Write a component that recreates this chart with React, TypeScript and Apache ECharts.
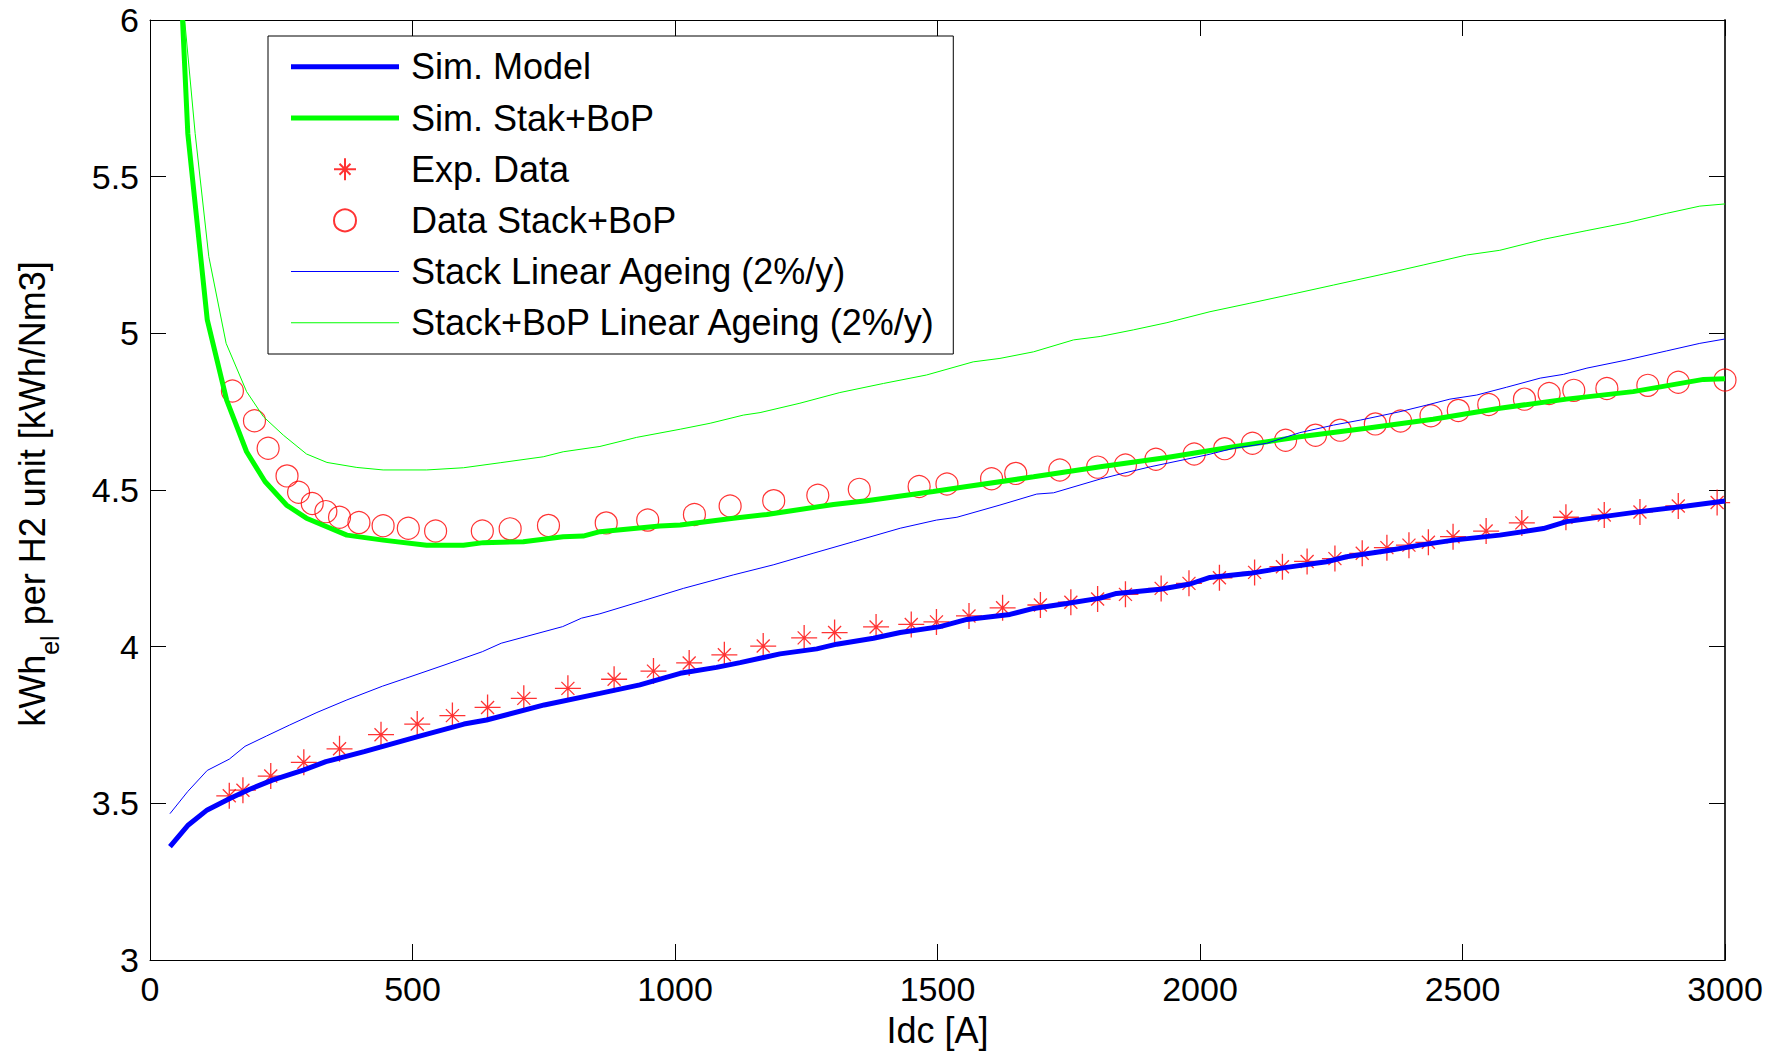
import React, { useEffect, useRef } from "react";
import * as echarts from "echarts";

const FONT = "'Liberation Sans', Arial, sans-serif";

// Idc [A] vs specific energy [kWh/Nm3]
const simModel: [number, number][] = [
  [38, 3.362], [73, 3.431], [109, 3.479], [153, 3.516], [190, 3.545], [233, 3.574],
  [292, 3.606], [335, 3.633], [408, 3.665], [510, 3.713], [598, 3.753], [641, 3.766],
  [751, 3.814], [857, 3.851], [933, 3.878], [1010, 3.915], [1079, 3.934], [1124, 3.949],
  [1200, 3.977], [1270, 3.993], [1308, 4.008], [1378, 4.027], [1429, 4.045], [1505, 4.064],
  [1556, 4.087], [1638, 4.103], [1683, 4.122], [1746, 4.138], [1810, 4.155], [1841, 4.17],
  [1924, 4.183], [1981, 4.2], [2019, 4.221], [2095, 4.234], [2165, 4.253], [2241, 4.271],
  [2279, 4.287], [2356, 4.306], [2419, 4.324], [2483, 4.34], [2571, 4.356], [2654, 4.377],
  [2698, 4.399], [2838, 4.431], [2927, 4.449], [3000, 4.465],
];

const simStackBop: [number, number][] = [
  [62, 6.0], [72, 5.638], [109, 5.044], [146, 4.787], [184, 4.622], [219, 4.527],
  [260, 4.452], [298, 4.41], [375, 4.356], [444, 4.34], [527, 4.324], [597, 4.324],
  [635, 4.332], [711, 4.335], [787, 4.351], [825, 4.353], [857, 4.367], [971, 4.385],
  [1010, 4.388], [1111, 4.41], [1175, 4.422], [1302, 4.454], [1365, 4.466], [1492, 4.495],
  [1556, 4.511], [1683, 4.542], [1810, 4.574], [1937, 4.604], [2064, 4.638], [2190, 4.67],
  [2317, 4.697], [2444, 4.726], [2571, 4.761], [2698, 4.79], [2825, 4.814], [2959, 4.853],
  [3000, 4.855],
];

const expData: [number, number][] = [
  [151, 3.524], [177, 3.542], [230, 3.587], [293, 3.631], [361, 3.674], [440, 3.719],
  [509, 3.753], [576, 3.78], [643, 3.806], [712, 3.835], [796, 3.867], [884, 3.896],
  [959, 3.922], [1027, 3.948], [1094, 3.974], [1168, 4.002], [1246, 4.028], [1304, 4.045],
  [1383, 4.063], [1450, 4.071], [1498, 4.079], [1560, 4.098], [1624, 4.124], [1696, 4.133],
  [1754, 4.142], [1805, 4.152], [1858, 4.167], [1926, 4.186], [1979, 4.202], [2037, 4.22],
  [2104, 4.237], [2157, 4.255], [2204, 4.272], [2257, 4.281], [2309, 4.298], [2356, 4.316],
  [2398, 4.324], [2435, 4.333], [2482, 4.351], [2545, 4.369], [2613, 4.395], [2697, 4.413],
  [2770, 4.42], [2838, 4.43], [2911, 4.449], [2985, 4.46],
];

const dataStackBop: [number, number][] = [
  [157, 4.816], [199, 4.721], [225, 4.633], [261, 4.545], [283, 4.493], [309, 4.457],
  [335, 4.431], [361, 4.413], [398, 4.396], [444, 4.386], [492, 4.378], [544, 4.369],
  [633, 4.369], [686, 4.376], [759, 4.387], [869, 4.395], [948, 4.404], [1037, 4.422],
  [1105, 4.449], [1188, 4.466], [1272, 4.483], [1351, 4.502], [1465, 4.511], [1518, 4.519],
  [1603, 4.536], [1649, 4.553], [1733, 4.564], [1805, 4.573], [1858, 4.58], [1916, 4.598],
  [1989, 4.615], [2047, 4.632], [2100, 4.649], [2163, 4.659], [2220, 4.675], [2267, 4.691],
  [2334, 4.711], [2382, 4.72], [2440, 4.737], [2492, 4.754], [2550, 4.773], [2618, 4.79],
  [2665, 4.808], [2712, 4.818], [2775, 4.824], [2853, 4.834], [2911, 4.844], [3000, 4.851],
];

const stackAgeing: [number, number][] = [
  [38, 3.467], [72, 3.538], [109, 3.605], [151, 3.641], [181, 3.682], [222, 3.715],
  [266, 3.75], [318, 3.79], [375, 3.83], [443, 3.874], [487, 3.899], [560, 3.941],
  [633, 3.984], [669, 4.011], [786, 4.064], [822, 4.091], [857, 4.105], [940, 4.147],
  [1016, 4.186], [1111, 4.229], [1187, 4.261], [1263, 4.298], [1340, 4.335], [1429, 4.378],
  [1498, 4.404], [1537, 4.413], [1619, 4.452], [1689, 4.487], [1721, 4.491], [1810, 4.535],
  [1848, 4.551], [1905, 4.574], [1962, 4.594], [2013, 4.612], [2064, 4.633], [2127, 4.649],
  [2190, 4.683], [2254, 4.707], [2305, 4.723], [2381, 4.75], [2432, 4.771], [2476, 4.79],
  [2527, 4.803], [2584, 4.828], [2648, 4.857], [2692, 4.869], [2737, 4.889], [2813, 4.915],
  [2889, 4.944], [2952, 4.968], [3000, 4.982],
];

const stackBopAgeing: [number, number][] = [
  [66, 6.0], [86, 5.638], [112, 5.245], [145, 4.968], [184, 4.814], [216, 4.734],
  [254, 4.675], [298, 4.615], [337, 4.588], [394, 4.572], [444, 4.564], [527, 4.564],
  [597, 4.571], [667, 4.587], [749, 4.606], [787, 4.622], [857, 4.639], [927, 4.668],
  [1010, 4.694], [1067, 4.713], [1130, 4.739], [1162, 4.747], [1238, 4.777], [1314, 4.811],
  [1397, 4.84], [1479, 4.867], [1568, 4.909], [1619, 4.92], [1683, 4.941], [1759, 4.979],
  [1810, 4.99], [1873, 5.011], [1937, 5.034], [2019, 5.069], [2095, 5.096], [2178, 5.126],
  [2254, 5.154], [2349, 5.189], [2425, 5.218], [2508, 5.25], [2571, 5.265], [2654, 5.3],
  [2737, 5.328], [2813, 5.353], [2889, 5.383], [2952, 5.406], [3000, 5.413],
];

const seriesNames = [
  "Sim. Model",
  "Sim. Stak+BoP",
  "Exp. Data",
  "Data Stack+BoP",
  "Stack Linear Ageing (2%/y)",
  "Stack+BoP Linear Ageing (2%/y)",
];

const ASTERISK = "path://M0,-10L0,10M-10,0L10,0M-5,-5L5,5M-5,5L5,-5";
// legend keys for the line series: plain bars as wide as the key slot
const THICK_KEY = "path://M0,0H108V5H0Z";
const THIN_KEY = "path://M0,0H108V1H0Z";

function buildOption(): echarts.EChartsCoreOption {
  const tick = { show: true, inside: true, length: 16, lineStyle: { color: "#000", width: 1 } };
  const line = (color: string, width = 1) => ({ show: true, onZero: false, lineStyle: { color, width } });
  const label = (margin: number) => ({
    fontSize: 34, fontFamily: FONT, color: "#000", margin,
    formatter: (v: number) => String(v),
  });

  return {
    animation: false,
    backgroundColor: "#fff",
    grid: { left: 150, right: 51, top: 20, bottom: 98, containLabel: false },
    xAxis: [
      {
        type: "value", min: 0, max: 3000, interval: 500, position: "bottom",
        axisLine: line("#000"), axisTick: tick, axisLabel: label(12), splitLine: { show: false },
        name: "Idc [A]", nameLocation: "middle", nameGap: 52,
        nameTextStyle: { fontSize: 36, fontFamily: FONT, color: "#000" },
      },
      {
        type: "value", min: 0, max: 3000, interval: 500, position: "top",
        axisLine: line("#000"), axisTick: tick, axisLabel: { show: false }, splitLine: { show: false },
      },
    ],
    yAxis: [
      {
        type: "value", min: 3, max: 6, interval: 0.5, position: "left",
        axisLine: line("#000"), axisTick: tick, axisLabel: label(11), splitLine: { show: false },
      },
      {
        type: "value", min: 3, max: 6, interval: 0.5, position: "right",
        axisLine: line("#333", 2), axisTick: tick, axisLabel: { show: false }, splitLine: { show: false },
      },
    ],
    legend: {
      left: 268, top: 36, orient: "vertical",
      itemWidth: 108, itemHeight: 22, itemGap: 11.2,
      padding: [10.8, 17, 11.2, 23],
      borderColor: "#000", borderWidth: 1, backgroundColor: "#fff",
      symbolKeepAspect: true, selectedMode: false,
      textStyle: { fontSize: 36, fontFamily: FONT, color: "#000", lineHeight: 40, padding: [0, 0, 0, 7] },
      data: [
        { name: seriesNames[0], icon: THICK_KEY },
        { name: seriesNames[1], icon: THICK_KEY },
        { name: seriesNames[2] },
        { name: seriesNames[3] },
        { name: seriesNames[4], icon: THIN_KEY },
        { name: seriesNames[5], icon: THIN_KEY },
      ],
    },
    graphic: [
      {
        type: "text", x: 32.5, y: 494, rotation: Math.PI / 2,
        style: {
          text: "{a|kWh}{b|el}{a| per H2 unit [kWh/Nm3]}",
          textAlign: "center", textVerticalAlign: "middle",
          fill: "#000", fontFamily: FONT, fontSize: 36,
          rich: {
            a: { fontSize: 36, fontFamily: FONT, fill: "#000", lineHeight: 60 },
            b: { fontSize: 25, fontFamily: FONT, fill: "#000", lineHeight: 25, verticalAlign: "bottom" },
          },
        },
      },
    ],
    series: [
      {
        name: seriesNames[0], type: "line", data: simModel, symbol: "none",
        lineStyle: { color: "#0000ff", width: 5 }, itemStyle: { color: "#0000ff" },
      },
      {
        name: seriesNames[1], type: "line", data: simStackBop, symbol: "none",
        lineStyle: { color: "#00ff00", width: 5 }, itemStyle: { color: "#00ff00" },
      },
      {
        name: seriesNames[2], type: "scatter", data: expData, symbol: ASTERISK, symbolSize: 26,
        itemStyle: { color: "transparent", borderColor: "#ff0000", borderWidth: 1.3 },
      },
      {
        name: seriesNames[3], type: "scatter", data: dataStackBop, symbol: "circle", symbolSize: 22,
        itemStyle: { color: "transparent", borderColor: "#ff0000", borderWidth: 1.2 },
      },
      {
        name: seriesNames[4], type: "line", data: stackAgeing, symbol: "none",
        lineStyle: { color: "#0000ff", width: 1 }, itemStyle: { color: "#0000ff" },
      },
      {
        name: seriesNames[5], type: "line", data: stackBopAgeing, symbol: "none",
        lineStyle: { color: "#00ff00", width: 1 }, itemStyle: { color: "#00ff00" },
      },
    ],
  };
}

export default function App() {
  const ref = useRef<HTMLDivElement>(null);
  useEffect(() => {
    if (!ref.current) return;
    const chart = echarts.init(ref.current, null, { renderer: "svg" });
    chart.setOption(buildOption());
    return () => chart.dispose();
  }, []);
  return (
    <div
      ref={ref}
      style={{ position: "fixed", left: 0, top: 0, width: 1776, height: 1058, background: "#fff" }}
    />
  );
}
